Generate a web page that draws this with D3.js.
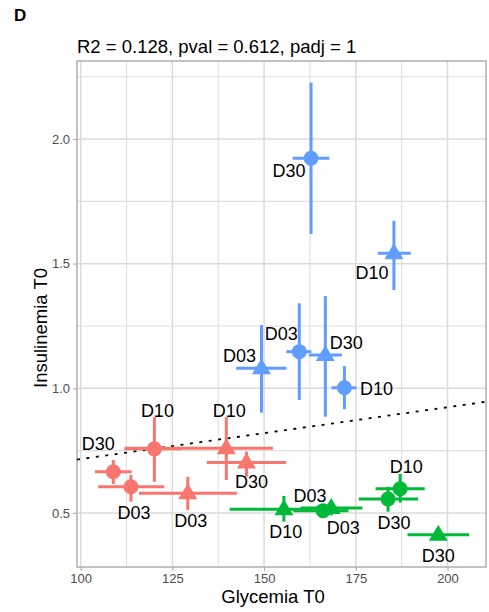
<!DOCTYPE html>
<html>
<head>
<meta charset="utf-8">
<script src="https://cdn.jsdelivr.net/npm/d3@7"></script>
<style>
  body { margin: 0; background: #fff; }
  text { font-family: "Liberation Sans", Arial, sans-serif; }
</style>
</head>
<body>
<div id="chart"></div>
<script>
// data
const timepoint = ['D30', 'D03', 'D10', 'D03', 'D10', 'D30',
                   'D03', 'D10', 'D30', 'D10', 'D03', 'D30',
                   'D03', 'D10', 'D30', 'D03', 'D10', 'D30'];
const group = [1, 1, 1, 1, 1, 1, 2, 2, 2, 2, 2, 2, 3, 3, 3, 3, 3, 3];
const shape = ['circle', 'circle', 'circle', 'triangle', 'triangle', 'triangle',
               'circle', 'circle', 'circle', 'triangle', 'triangle', 'triangle',
               'circle', 'circle', 'circle', 'triangle', 'triangle', 'triangle'];
const glycemia     = [108.9, 113.7, 120.1, 129.2, 139.7, 145.2, 166.1, 187.1, 183.8, 155.4, 168.3, 197.5, 159.6, 171.9, 162.8, 149.3, 185.4, 166.7];
const glycemiaLow  = [103.9, 104.8, 111.9, 115.9, 112.1, 134.4, 158.0, 180.4, 175.8, 140.6, 160.0, 189.1, 156.1, 168.4, 157.8, 142.4, 181.0, 162.2];
const glycemiaHigh = [113.9, 122.8, 127.6, 142.6, 152.4, 156.0, 173.0, 193.8, 192.0, 163.0, 176.8, 205.9, 162.9, 175.2, 167.8, 156.1, 190.0, 171.2];
const insulin      = [0.665, 0.605, 0.757, 0.579, 0.759, 0.702, 0.509, 0.597, 0.556, 0.515, 0.520, 0.412, 1.147, 1.002, 1.923, 1.080, 1.542, 1.134];
const insulinLow   = [0.616, 0.545, 0.625, 0.512, 0.632, 0.645, 0.490, 0.541, 0.505, 0.465, 0.490, 0.400, 0.953, 0.916, 1.619, 0.902, 1.394, 0.886];
const insulinHigh  = [0.712, 0.652, 0.884, 0.645, 0.884, 0.746, 0.530, 0.656, 0.605, 0.568, 0.540, 0.425, 1.341, 1.089, 2.226, 1.254, 1.672, 1.370];

// fitted line
const fitIntercept = 0.716; // value at glycemia = 100
const fitSlope = 0.00208;
const statsTitle = 'R2 = 0.128, pval = 0.612, padj = 1';

const xTicks = [100, 125, 150, 175, 200];
const yTicks = [0.5, 1.0, 1.5, 2.0];

// label placement (repelled text), pixel offsets from the point
const labelOffsets = [[-15, -28], [3, 26], [3, -38], [3, 27], [3, -38], [5, 19],
                      [-13, -15], [6, -22], [6, 24], [2, 22], [12, 20], [0, 21],
                      [-18, -18], [32, 1], [-22, 12], [-22, -13], [-22, 19], [21, -12]];

const colors = { 1: '#F8766D', 2: '#00BA38', 3: '#619CFF' };

const W = 489, H = 612;
const margin = { top: 61, right: 3, bottom: 45, left: 77 };

const svg = d3.select('#chart').append('svg')
  .attr('width', W)
  .attr('height', H);

const x = d3.scaleLinear().domain([99, 210.5]).range([margin.left, W - margin.right]);
const y = d3.scaleLinear().domain([0.283, 2.313]).range([H - margin.bottom, margin.top]);

// panel letter and title
svg.append('text')
  .attr('x', 14).attr('y', 21)
  .style('font-size', '17px')
  .style('font-weight', 'bold')
  .text('D');

svg.append('text')
  .attr('x', margin.left).attr('y', 53)
  .style('font-size', '18.5px')
  .text(statsTitle);

// grid
const grid = svg.append('g');
const xMinor = d3.range(87.5, 212.5, 25);
const yMinor = d3.range(0.25, 2.5, 0.5);
grid.selectAll('line.xminor').data(xMinor.filter(d => x(d) > margin.left && x(d) < W - margin.right))
  .enter().append('line')
  .attr('x1', d => x(d)).attr('x2', d => x(d))
  .attr('y1', margin.top).attr('y2', H - margin.bottom)
  .attr('stroke', '#E0E0E0').attr('stroke-width', 1.1);
grid.selectAll('line.yminor').data(yMinor.filter(d => y(d) < H - margin.bottom && y(d) > margin.top))
  .enter().append('line')
  .attr('y1', d => y(d)).attr('y2', d => y(d))
  .attr('x1', margin.left).attr('x2', W - margin.right)
  .attr('stroke', '#E0E0E0').attr('stroke-width', 1.1);
grid.selectAll('line.xmajor').data(xTicks)
  .enter().append('line')
  .attr('x1', d => x(d)).attr('x2', d => x(d))
  .attr('y1', margin.top).attr('y2', H - margin.bottom)
  .attr('stroke', '#DBDBDB').attr('stroke-width', 1.5);
grid.selectAll('line.ymajor').data(yTicks)
  .enter().append('line')
  .attr('y1', d => y(d)).attr('y2', d => y(d))
  .attr('x1', margin.left).attr('x2', W - margin.right)
  .attr('stroke', '#DBDBDB').attr('stroke-width', 1.5);

// axes
const xAxis = svg.append('g')
  .attr('transform', `translate(0, ${H - margin.bottom})`)
  .call(d3.axisBottom(x).tickValues(xTicks).tickSize(4).tickPadding(3).tickFormat(d3.format('d')));
const yAxis = svg.append('g')
  .attr('transform', `translate(${margin.left}, 0)`)
  .call(d3.axisLeft(y).tickValues(yTicks).tickSize(4).tickPadding(3).tickFormat(d3.format('.1f')));
[xAxis, yAxis].forEach(a => {
  a.select('.domain').remove();
  a.selectAll('.tick line').attr('stroke', '#B3B3B3').attr('stroke-width', 1.2);
  a.selectAll('.tick text')
    .attr('fill', '#4D4D4D')
    .style('font-size', '13px')
    .style('font-family', '"Liberation Sans", Arial, sans-serif');
});

svg.append('rect')
  .attr('x', margin.left).attr('y', margin.top)
  .attr('width', W - margin.left - margin.right)
  .attr('height', H - margin.top - margin.bottom)
  .attr('fill', 'none')
  .attr('stroke', '#B3B3B3')
  .attr('stroke-width', 1.6);

svg.append('text')
  .attr('x', 273).attr('y', 603)
  .attr('text-anchor', 'middle')
  .style('font-size', '18.5px')
  .text('Glycemia T0');

svg.append('text')
  .attr('transform', 'translate(47, 328) rotate(-90)')
  .attr('text-anchor', 'middle')
  .style('font-size', '18.5px')
  .text('Insulinemia T0');

// regression line
const plot = svg.append('g');
const [x0, x1] = x.domain();
plot.append('line')
  .attr('x1', x(x0)).attr('y1', y(fitIntercept + fitSlope * (x0 - 100)))
  .attr('x2', x(x1)).attr('y2', y(fitIntercept + fitSlope * (x1 - 100)))
  .attr('stroke', '#000')
  .attr('stroke-width', 1.8)
  .attr('stroke-dasharray', '3,6.5');

const idx = d3.range(timepoint.length);

// error bars
plot.selectAll('line.hbar').data(idx)
  .enter().append('line')
  .attr('x1', i => x(glycemiaLow[i])).attr('x2', i => x(glycemiaHigh[i]))
  .attr('y1', i => y(insulin[i])).attr('y2', i => y(insulin[i]))
  .attr('stroke', i => colors[group[i]])
  .attr('stroke-width', 3);
plot.selectAll('line.vbar').data(idx)
  .enter().append('line')
  .attr('x1', i => x(glycemia[i])).attr('x2', i => x(glycemia[i]))
  .attr('y1', i => y(insulinLow[i])).attr('y2', i => y(insulinHigh[i]))
  .attr('stroke', i => colors[group[i]])
  .attr('stroke-width', 3);

// points
const tri = 'M0,-10L9.5,6L-9.5,6Z';
plot.selectAll('path.pt').data(idx)
  .enter().append('path')
  .attr('transform', i => `translate(${x(glycemia[i])}, ${y(insulin[i])})`)
  .attr('d', i => shape[i] === 'circle' ? d3.symbol(d3.symbolCircle, Math.PI * 7.5 * 7.5)() : tri)
  .attr('fill', i => colors[group[i]]);

// labels
plot.selectAll('text.lab').data(idx)
  .enter().append('text')
  .attr('x', i => x(glycemia[i]) + labelOffsets[i][0])
  .attr('y', i => y(insulin[i]) + labelOffsets[i][1] + 6.4)
  .attr('text-anchor', 'middle')
  .style('font-size', '18px')
  .text(i => timepoint[i]);
</script>
</body>
</html>
